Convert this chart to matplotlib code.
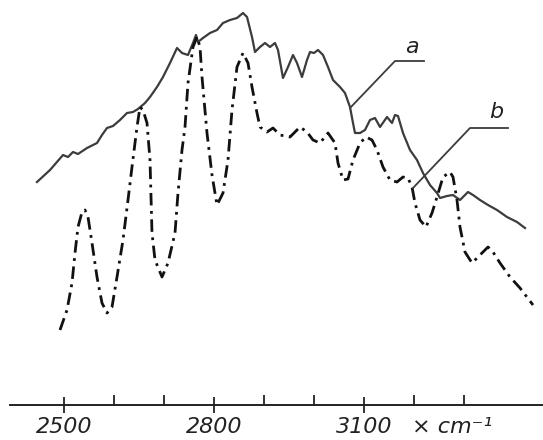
import matplotlib
matplotlib.use("Agg")
import matplotlib.pyplot as plt

# Curve a (solid): wavenumber (cm^-1) and relative signal
a_wn = [2446, 2472, 2498, 2508, 2518, 2528, 2546, 2566, 2576, 2586, 2598, 2612, 2626, 2638,
        2648, 2662, 2672, 2686, 2698, 2712, 2726, 2736, 2748, 2758, 2764, 2768, 2778, 2792,
        2806, 2818, 2832, 2846, 2858, 2866, 2876, 2882, 2892, 2902, 2912, 2922, 2928, 2938,
        2948, 2958, 2966, 2976, 2986, 2992, 3000, 3008, 3018, 3028, 3038, 3052, 3062, 3072,
        3078, 3082, 3092, 3102, 3112, 3122, 3132, 3146, 3156, 3162, 3168, 3178, 3192, 3206,
        3218, 3232, 3246, 3252, 3266, 3278, 3292, 3308, 3318, 3332, 3348, 3366, 3386, 3406, 3422]
a_val = [258, 270, 285, 283, 288, 286, 292, 297, 305, 312, 314, 320, 327, 328,
         331, 337, 343, 353, 363, 377, 392, 387, 385, 397, 405, 398, 402, 407,
         410, 417, 420, 422, 427, 423, 403, 388, 393, 397, 393, 397, 390, 362,
         373, 385, 377, 363, 380, 388, 387, 390, 385, 373, 360, 353, 347, 333,
         317, 307, 307, 310, 320, 322, 313, 323, 317, 325, 324, 307, 290, 280,
         267, 255, 247, 242, 244, 245, 240, 248, 245, 240, 235, 230, 223, 218, 212]

# Curve b (dash-dot)
b_wn = [2492, 2506, 2516, 2522, 2528, 2536, 2542, 2548, 2556, 2566, 2576, 2586, 2596, 2606,
        2618, 2628, 2636, 2646, 2652, 2658, 2666, 2672, 2676, 2682, 2696, 2708, 2722, 2728,
        2736, 2742, 2748, 2758, 2766, 2772, 2776, 2786, 2796, 2806, 2818, 2828, 2836, 2846,
        2858, 2868, 2876, 2886, 2892, 2906, 2918, 2932, 2952, 2972, 2986, 2998, 3012, 3028,
        3042, 3048, 3058, 3068, 3078, 3092, 3104, 3116, 3126, 3138, 3152, 3166, 3178, 3188,
        3196, 3202, 3212, 3224, 3236, 3246, 3258, 3272, 3278, 3286, 3292, 3302, 3316, 3332,
        3348, 3358, 3372, 3392, 3412, 3438]
b_val = [110, 130, 157, 187, 213, 228, 230, 223, 197, 163, 137, 127, 133, 163,
         200, 240, 273, 313, 333, 330, 317, 280, 207, 180, 163, 177, 207, 247,
         290, 313, 357, 393, 403, 393, 363, 307, 265, 235, 247, 280, 330, 373,
         387, 377, 353, 327, 313, 308, 312, 305, 303, 313, 308, 300, 297, 307,
         297, 277, 260, 261, 280, 297, 303, 300, 290, 273, 260, 258, 263, 262,
         253, 237, 220, 213, 227, 243, 263, 268, 263, 240, 213, 188, 177, 185,
         193, 188, 177, 163, 152, 135]

# Leader lines for labels
lead_a_wn = [3072, 3162, 3220]
lead_a_val = [332, 379, 379]
lead_b_wn = [3198, 3312, 3388]
lead_b_val = [252, 312, 312]

major_ticks = [2500, 2800, 3100]
major_labels = ["2500", "2800", "3100"]
minor_ticks = [2600, 2700, 2900, 3000, 3200, 3300]

fig = plt.figure(figsize=(5.43, 4.40), dpi=100)
ax = fig.add_axes([0, 0, 1, 1])
ax.set_xlim(2372, 3458)
ax.set_ylim(0, 440)

ax.plot(a_wn, a_val, color="#3c3c3c", lw=1.6, solid_joinstyle="round")
ax.plot(b_wn, b_val, color="#111111", lw=2.0, linestyle=(0, (4.5, 2.0, 1.0, 2.0)),
        dash_capstyle="butt")

ax.plot(lead_a_wn, lead_a_val, color="#3c3c3c", lw=1.3)
ax.plot(lead_b_wn, lead_b_val, color="#3c3c3c", lw=1.3)
ax.text(3196, 393, "a", fontsize=16, style="italic", ha="center", va="center", color="#222222")
ax.text(3364, 328, "b", fontsize=16, style="italic", ha="center", va="center", color="#222222")

for s in ["top", "left", "right"]:
    ax.spines[s].set_visible(False)
ax.spines["bottom"].set_position(("data", 35))
ax.spines["bottom"].set_bounds(2392, 3458)
ax.spines["bottom"].set_linewidth(1.4)
ax.spines["bottom"].set_color("#222222")
ax.set_yticks([])

ax.set_xticks(major_ticks)
ax.set_xticklabels(major_labels, fontsize=16, style="italic", color="#222222")
ax.set_xticks(minor_ticks, minor=True)
ax.tick_params(axis="x", which="major", direction="inout", length=11, width=1.3,
               color="#222222", pad=3)
ax.tick_params(axis="x", which="minor", direction="in", length=7, width=1.3, color="#222222")

ax.text(3196, 23, "× cm⁻¹", fontsize=16, style="italic", ha="left", va="top", color="#222222")

fig.savefig("out.png", dpi=100)
